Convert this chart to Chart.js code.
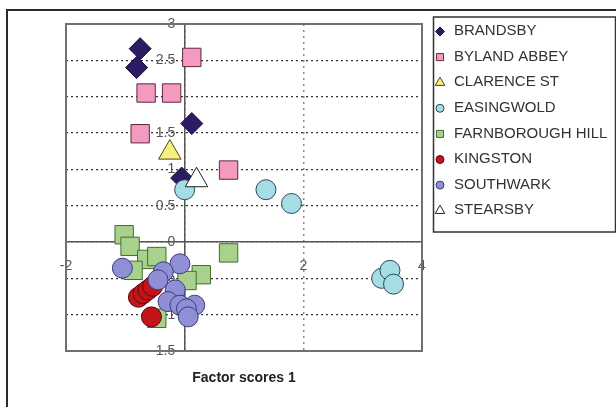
<!DOCTYPE html>
<html>
<head>
<meta charset="utf-8">
<script src="https://cdn.jsdelivr.net/npm/chart.js@4"></script>
<style>
  html, body { margin: 0; padding: 0; background: #fff; }
</style>
</head>
<body>
<canvas id="myChart" width="616" height="407"></canvas>
<script>
  var seriesNames = ["BRANDSBY", "BYLAND ABBEY", "CLARENCE ST", "EASINGWOLD", "FARNBOROUGH HILL", "KINGSTON", "SOUTHWARK", "STEARSBY"];

  var brandsbyX = [-0.75, -0.81, 0.12, -0.05];
  var brandsbyY = [2.66, 2.40, 1.63, 0.88];
  var bylandX = [0.12, -0.65, -0.22, -0.75, 0.74];
  var bylandY = [2.54, 2.05, 2.05, 1.49, 0.99];
  var clarenceX = [-0.25];
  var clarenceY = [1.23];
  var easingwoldX = [0.0, 1.37, 1.80, 3.32, 3.46, 3.52];
  var easingwoldY = [0.72, 0.72, 0.53, -0.50, -0.39, -0.58];
  var farnboroughX = [-1.02, -0.92, -0.64, -0.47, -0.87, 0.74, 0.28, 0.04, -0.47];
  var farnboroughY = [0.10, -0.06, -0.24, -0.20, -0.39, -0.15, -0.45, -0.53, -1.05];
  var kingstonX = [-0.78, -0.70, -0.62, -0.54, -0.56];
  var kingstonY = [-0.76, -0.71, -0.66, -0.61, -1.03];
  var southwarkX = [-1.05, -0.08, -0.36, -0.45, -0.16, -0.28, -0.08, 0.17, 0.03, 0.06];
  var southwarkY = [-0.36, -0.30, -0.41, -0.52, -0.66, -0.82, -0.87, -0.87, -0.92, -1.03];
  var stearsbyX = [0.2];
  var stearsbyY = [0.85];

  var xTicks = [-2, 0, 2, 4];
  var yTicks = [-1.5, -1, -0.5, 0, 0.5, 1, 1.5, 2, 2.5, 3];

  var allX = [brandsbyX, bylandX, clarenceX, easingwoldX, farnboroughX, kingstonX, southwarkX, stearsbyX];
  var allY = [brandsbyY, bylandY, clarenceY, easingwoldY, farnboroughY, kingstonY, southwarkY, stearsbyY];

  var fills = ["#2d1b63", "#f49ac0", "#f8f07c", "#a6dce6", "#a9d18e", "#c3141c", "#8f8fd6", "#ffffff"];
  var borders = ["#1a0f3a", "#5a2a3a", "#4a4a20", "#2b4a55", "#456a30", "#5a0a0a", "#3d3d7a", "#222222"];
  var styles = ["rectRot", "rect", "triangle", "circle", "rect", "circle", "circle", "triangle"];
  var radii = [11, 13, 13, 10, 13, 10, 10, 13];
  var legendRadii = [4.5, 5, 5.5, 4, 5, 4, 4, 5.5];

  function pairs(xs, ys) {
    return xs.map(function (x, i) { return { x: x, y: ys[i] }; });
  }

  function fixedTicks(list) {
    return function (s) { s.ticks = list.map(function (v) { return { value: v }; }); };
  }

  var datasets = seriesNames.map(function (name, i) {
    return {
      label: name,
      data: pairs(allX[i], allY[i]),
      pointStyle: styles[i],
      pointRadius: radii[i],
      pointHoverRadius: radii[i],
      backgroundColor: fills[i],
      borderColor: borders[i],
      borderWidth: 1,
      order: seriesNames.length - i,
    };
  });

  var decorations = {
    id: "decorations",
    beforeDraw: function (chart) {
      var ctx = chart.ctx;
      ctx.save();
      ctx.fillStyle = "#fff";
      ctx.fillRect(0, 0, chart.width, chart.height);
      ctx.restore();
    },
    afterDraw: function (chart) {
      var ctx = chart.ctx, a = chart.chartArea;
      ctx.save();
      // plot frame
      ctx.strokeStyle = "#707070";
      ctx.lineWidth = 2;
      ctx.strokeRect(a.left, a.top, a.right - a.left, a.bottom - a.top);

      // outer frame
      ctx.strokeStyle = "#2a2a2a";
      ctx.lineWidth = 2;
      ctx.beginPath();
      ctx.moveTo(7, 420);
      ctx.lineTo(7, 10);
      ctx.lineTo(620, 10);
      ctx.stroke();

      // legend
      ctx.strokeStyle = "#333";
      ctx.lineWidth = 1.5;
      ctx.strokeRect(433.5, 17, 182, 215);
      ctx.font = "15px 'Liberation Sans', Arial, sans-serif";
      ctx.textBaseline = "middle";
      ctx.textAlign = "left";
      seriesNames.forEach(function (name, i) {
        var y = 31 + i * 25.6;
        ctx.fillStyle = fills[i];
        ctx.strokeStyle = borders[i];
        ctx.lineWidth = 1;
        Chart.helpers.drawPoint(ctx, { pointStyle: styles[i], radius: legendRadii[i], borderWidth: 1, rotation: 0 }, 440, y + 0.5);
        ctx.fillStyle = "#333";
        ctx.fillText(name, 454, y);
      });

      // axis title
      ctx.font = "bold 14px 'Liberation Sans', Arial, sans-serif";
      ctx.fillStyle = "#222";
      ctx.textAlign = "center";
      ctx.fillText("Factor scores 1", (a.left + a.right) / 2, 378);
      ctx.restore();
    },
  };

  var tickFont = { family: "'Liberation Sans', Arial, sans-serif", size: 14 };

  new Chart("myChart", {
    type: "scatter",
    data: { datasets: datasets },
    options: {
      responsive: false,
      animation: false,
      layout: { padding: { left: 66, top: 24, right: 194, bottom: 56 } },
      plugins: {
        legend: { display: false },
        title: { display: false },
        tooltip: { enabled: false },
      },
      scales: {
        // dotted grids, under the points
        x: {
          type: "linear",
          min: -2,
          max: 4,
          position: { y: 0 },
          afterBuildTicks: fixedTicks(xTicks),
          ticks: { display: false },
          grid: { color: "#8a8a8a", lineWidth: 1.5, drawTicks: false },
          border: { display: false, dash: [2, 4] },
        },
        y: {
          type: "linear",
          min: -1.5,
          max: 3,
          position: { x: 0 },
          afterBuildTicks: fixedTicks(yTicks),
          ticks: { display: false },
          grid: { color: "#333", lineWidth: 1.2, drawTicks: false },
          border: { display: false, dash: [2, 3] },
        },
        // axis lines and labels, over the points
        xl: {
          type: "linear",
          axis: "x",
          min: -2,
          max: 4,
          z: 1,
          position: { y: 0 },
          afterBuildTicks: fixedTicks(xTicks),
          ticks: {
            padding: 16,
            color: "#555",
            maxRotation: 0,
            font: tickFont,
            callback: function (v) { return String(v); },
          },
          grid: { display: false, drawTicks: false },
          border: { display: true, color: "#555", width: 1.5 },
        },
        ya: {
          type: "linear",
          axis: "y",
          min: -1.5,
          max: 3,
          z: 1,
          position: { x: 0 },
          ticks: { display: false },
          grid: { display: false, drawTicks: false },
          border: { display: true, color: "#555", width: 1.5 },
        },
        yl: {
          type: "linear",
          axis: "y",
          min: -1.5,
          max: 3,
          z: 1,
          position: { x: -0.16 },
          afterBuildTicks: fixedTicks(yTicks),
          ticks: {
            color: "#555",
            font: tickFont,
            callback: function (v) { return String(v); },
          },
          grid: { display: false, drawTicks: false },
          border: { display: false },
        },
      },
    },
    plugins: [decorations],
  });
</script>
</body>
</html>
